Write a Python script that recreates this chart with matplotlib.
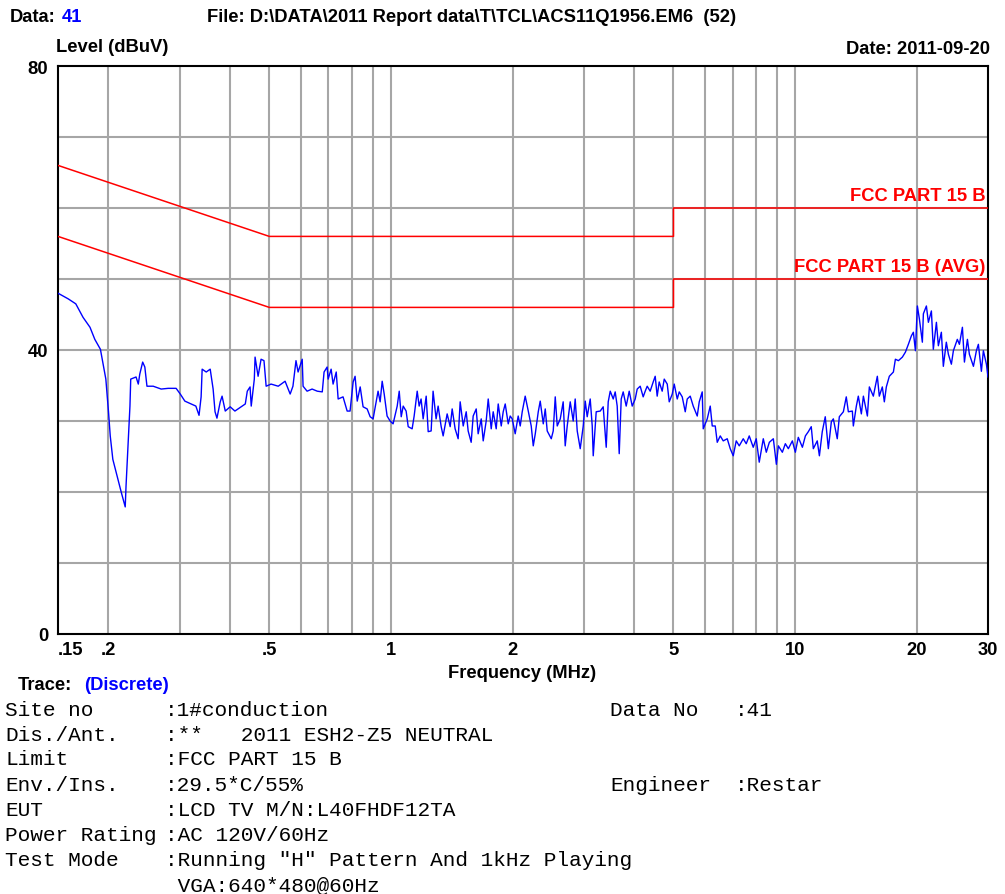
import matplotlib
matplotlib.use('Agg')
import matplotlib.pyplot as plt
from matplotlib.ticker import FixedLocator, NullFormatter

# ---------------- data ----------------
trace_freq_mhz = [
    0.150, 0.159, 0.166, 0.173, 0.180, 0.185, 0.191, 0.194, 0.197, 0.200,
    0.202, 0.205, 0.211, 0.215, 0.220, 0.221, 0.224, 0.226, 0.227, 0.234,
    0.237, 0.239, 0.243, 0.246, 0.249, 0.258, 0.270, 0.281, 0.294, 0.301,
    0.309, 0.320, 0.329, 0.335, 0.339, 0.341, 0.349, 0.357, 0.363, 0.367,
    0.371, 0.378, 0.382, 0.389, 0.400, 0.411, 0.426, 0.436, 0.441, 0.448,
    0.451, 0.459, 0.461, 0.469, 0.477, 0.485, 0.491, 0.505, 0.526, 0.547,
    0.563, 0.572, 0.582, 0.589,
    0.603, 0.606, 0.620, 0.638, 0.657, 0.676, 0.683, 0.695, 0.699, 0.711,
    0.719, 0.732, 0.740, 0.761, 0.779, 0.792, 0.806, 0.815, 0.825, 0.839,
    0.853, 0.873, 0.888, 0.903, 0.924, 0.929, 0.940, 0.951, 0.962, 0.978,
    0.995, 1.012, 1.036, 1.048, 1.060, 1.072, 1.090, 1.103, 1.128, 1.141,
    1.161, 1.174, 1.187, 1.201, 1.222, 1.236, 1.257, 1.271, 1.293, 1.308,
    1.331, 1.346, 1.377, 1.401, 1.417, 1.441, 1.466, 1.483, 1.509, 1.535,
    1.552, 1.579, 1.597, 1.625, 1.643, 1.672, 1.691, 1.720, 1.740, 1.770,
    1.790, 1.821, 1.842, 1.874, 1.895, 1.917, 1.950, 1.972, 1.995, 2.029,
    2.064, 2.088, 2.112, 2.148, 2.186, 2.223, 2.249, 2.275,
    2.314, 2.340, 2.381, 2.408, 2.435, 2.492, 2.520, 2.549, 2.578, 2.623,
    2.667, 2.698, 2.729, 2.776, 2.824, 2.856, 2.889, 2.939, 2.990, 3.024,
    3.058, 3.111, 3.147, 3.165, 3.219, 3.294, 3.350, 3.408, 3.447, 3.487,
    3.547, 3.587, 3.628, 3.670, 3.712, 3.754, 3.819, 3.885, 3.952, 4.020,
    4.066, 4.136, 4.207, 4.256, 4.304, 4.378, 4.454, 4.505, 4.556, 4.609,
    4.688, 4.743, 4.825, 4.880, 4.965, 5.021, 5.108, 5.166, 5.255, 5.346,
    5.407, 5.500, 5.595, 5.724, 5.790, 5.889, 5.923, 6.060, 6.164, 6.235,
    6.342, 6.415, 6.526, 6.638, 6.791, 6.908, 7.027, 7.148, 7.272, 7.439,
    7.567, 7.698, 7.875, 8.011, 8.149, 8.339, 8.483, 8.632,
    8.831, 8.984, 9.087, 9.296, 9.456, 9.619, 9.841, 10.01, 10.18, 10.42,
    10.60, 10.78, 10.96, 11.09, 11.34, 11.48, 11.67, 11.87, 12.08, 12.29,
    12.43, 12.71, 12.86, 13.16, 13.38, 13.54, 13.85, 13.93, 14.17, 14.33,
    14.58, 14.75, 15.09, 15.26, 15.61, 15.79, 15.97, 16.15, 16.43, 16.62,
    16.81, 17.10, 17.50, 17.70, 18.01, 18.42, 18.74, 19.06, 19.39, 19.61,
    19.84, 20.06, 20.29, 20.64, 20.76, 21.12, 21.36, 21.73, 21.97, 22.36,
    22.61, 23.00, 23.26, 23.66, 23.94, 24.35, 24.63, 25.19, 25.49, 25.93,
    26.23, 26.68, 26.98, 27.61, 28.08, 28.40, 28.89, 29.22, 29.73, 30.00,
]
trace_level_dbuv = [
    48.0, 47.2, 46.5, 44.6, 43.2, 41.5, 40.1, 38.0, 35.9, 31.3,
    27.9, 24.6, 21.8, 20.0, 17.9, 20.8, 27.5, 32.1, 35.9, 36.2,
    35.2, 36.6, 38.3, 37.6, 34.9, 34.9, 34.5, 34.6, 34.6, 33.8,
    32.8, 32.4, 32.1, 30.8, 33.4, 37.3, 36.9, 37.3, 34.5, 31.3,
    30.4, 32.7, 33.5, 31.4, 32.0, 31.4, 32.0, 32.4, 34.2, 34.8,
    32.1, 35.9, 39.0, 36.3, 38.7, 38.5, 34.9, 35.2, 34.9, 35.6,
    33.8, 34.9, 38.5, 36.9,
    38.7, 34.9, 34.2, 34.5, 34.2, 34.1, 36.9, 37.6, 35.9, 37.3,
    35.2, 36.9, 33.1, 33.4, 31.4, 31.4, 35.5, 36.3, 32.8, 34.8,
    32.0, 31.7, 30.6, 30.3, 33.4, 34.2, 32.7, 35.6, 33.8, 30.7,
    30.0, 29.6, 32.1, 34.2, 30.6, 32.1, 31.4, 29.2, 28.9, 30.7,
    34.2, 32.1, 33.1, 30.3, 33.5, 28.5, 28.6, 34.2, 30.3, 32.1,
    29.2, 27.9, 31.0, 29.2, 31.7, 28.9, 27.5, 32.7, 29.3, 31.3,
    28.6, 27.0, 30.7, 31.7, 28.2, 30.3, 27.2, 30.0, 33.1, 28.9,
    31.3, 28.9, 32.4, 29.3, 31.3, 32.4, 29.6, 30.7, 30.3, 28.2,
    30.7, 29.3, 31.3, 33.5, 31.4, 29.3, 26.5, 28.2,
    31.3, 32.8, 29.6, 31.7, 28.6, 27.5, 28.6, 33.4, 29.3, 30.3,
    32.7, 26.5, 29.3, 32.7, 30.0, 33.1, 28.6, 26.1, 29.3, 32.8,
    30.6, 33.1, 29.3, 25.1, 31.3, 31.4, 32.0, 26.3, 32.7, 34.2,
    33.1, 34.1, 32.1, 25.4, 33.1, 34.1, 32.1, 34.2, 32.1, 33.1,
    34.5, 34.9, 33.4, 34.2, 34.9, 34.2, 35.5, 36.3, 33.5, 35.5,
    34.2, 35.9, 35.2, 32.7, 33.8, 35.2, 33.1, 34.1, 33.4, 31.3,
    33.1, 33.5, 32.1, 30.7, 32.7, 34.1, 28.9, 30.3, 32.1, 29.3,
    29.3, 27.0, 27.9, 27.2, 27.5, 26.1, 25.1, 27.2, 26.5, 27.5,
    26.8, 27.9, 26.3, 27.5, 24.2, 27.5, 25.6, 27.0,
    27.5, 23.9, 26.5, 25.6, 26.8, 26.1, 27.2, 25.6, 27.7, 26.3,
    27.9, 28.5, 29.2, 26.1, 27.2, 25.1, 28.5, 30.6, 26.1, 29.9,
    30.3, 27.5, 30.6, 31.3, 33.4, 31.3, 31.4, 29.3, 32.1, 33.5,
    31.0, 33.5, 30.7, 34.8, 33.5, 34.9, 36.3, 33.5, 34.8, 32.7,
    34.8, 36.3, 36.9, 38.7, 38.5, 39.0, 39.7, 40.8, 42.0, 42.5,
    39.9, 46.2, 44.4, 41.1, 45.1, 46.2, 43.9, 45.5, 40.1, 43.9,
    40.6, 42.5, 37.7, 41.1, 39.4, 38.0, 39.9, 41.5, 40.8, 43.2,
    38.3, 41.5, 39.4, 37.7, 39.9, 40.8, 37.0, 39.9, 38.0, 36.2,
]

limit_freq_mhz = [0.15, 0.5, 5.0, 5.0, 30.0]
limit_qp_dbuv = [66, 56, 56, 60, 60]
limit_avg_dbuv = [56, 46, 46, 50, 50]

x_tick_values = [0.15, 0.2, 0.5, 1, 2, 5, 10, 20, 30]
x_tick_labels = ['.15', '.2', '.5', '1', '2', '5', '10', '20', '30']
x_grid_values = [0.2, 0.3, 0.4, 0.5, 0.6, 0.7, 0.8, 0.9, 1, 2, 3, 4, 5, 6, 7, 8, 9, 10, 20]
y_tick_values = [0, 40, 80]
y_grid_values = [10, 20, 30, 40, 50, 60, 70]

info_labels = ['Site no', 'Dis./Ant.', 'Limit', 'Env./Ins.', 'EUT',
               'Power Rating', 'Test Mode', '']
info_values = [':1#conduction', ':**   2011 ESH2-Z5 NEUTRAL', ':FCC PART 15 B',
               ':29.5*C/55%', ':LCD TV M/N:L40FHDF12TA', ':AC 120V/60Hz',
               ':Running "H" Pattern And 1kHz Playing', ' VGA:640*480@60Hz']
right_labels = {0: ('Data No', ':41'), 3: ('Engineer', ':Restar')}

# ---------------- figure ----------------
W, H = 1005, 895
fig = plt.figure(figsize=(W / 100, H / 100), dpi=100)
fig.patch.set_facecolor('white')

def fx(x):
    return x / W

def fy(y):
    return 1 - y / H

SANS = 'Liberation Sans'
MONO = 'Liberation Mono'
BLUE = '#0000FF'
RED = '#FF0000'
GRID = '#A6A6A6'
FS = 13.2
MFS = 15.2

ax = fig.add_axes([fx(58), fy(635), fx(988) - fx(58), fy(67) - fy(635)])
ax.set_xscale('log')
ax.set_xlim(0.15, 30)
ax.set_ylim(0, 80)

for g in x_grid_values:
    ax.axvline(g, color=GRID, lw=1.5, zorder=1)
for g in y_grid_values:
    ax.axhline(g, color=GRID, lw=1.5, zorder=1)

ax.plot(limit_freq_mhz, limit_qp_dbuv, color=RED, lw=1.1, zorder=3)
ax.plot(limit_freq_mhz, limit_avg_dbuv, color=RED, lw=1.1, zorder=3)
ax.plot(trace_freq_mhz, trace_level_dbuv, color=BLUE, lw=1.0, zorder=4)

ax.xaxis.set_major_locator(FixedLocator(x_tick_values))
ax.xaxis.set_minor_locator(FixedLocator([]))
ax.xaxis.set_minor_formatter(NullFormatter())
ax.set_xticklabels(x_tick_labels)
ax.yaxis.set_major_locator(FixedLocator(y_tick_values))
ax.set_yticklabels([str(v) for v in y_tick_values])
ax.tick_params(axis='both', length=0, labelsize=FS)
ax.tick_params(axis='x', pad=5)
ax.tick_params(axis='y', pad=7)
for lbl in ax.get_xticklabels() + ax.get_yticklabels():
    lbl.set_fontfamily(SANS)
    lbl.set_fontweight('bold')
ax.get_xticklabels()[0].set_ha('left')
ax.get_xticklabels()[0].set_x(0.148)

for s in ax.spines.values():
    s.set_color('black')
    s.set_linewidth(1.5)

ax.text(29.6, 60.6, 'FCC PART 15 B', color=RED, ha='right', va='bottom',
        fontsize=FS, fontweight='bold', family=SANS)
ax.text(29.6, 50.6, 'FCC PART 15 B (AVG)', color=RED, ha='right', va='bottom',
        fontsize=FS, fontweight='bold', family=SANS)

def t(x, y, s, **kw):
    kw.setdefault('fontsize', FS)
    kw.setdefault('fontweight', 'bold')
    kw.setdefault('family', SANS)
    kw.setdefault('va', 'center')
    fig.text(fx(x), fy(y), s, **kw)

t(10, 17, 'Data:')
t(62, 17, '41', color=BLUE)
t(207, 17, 'File: D:\\DATA\\2011 Report data\\T\\TCL\\ACS11Q1956.EM6  (52)')
t(56, 47, 'Level (dBuV)')
t(990, 49, 'Date: 2011-09-20', ha='right')
t(522, 673, 'Frequency (MHz)', ha='center')
t(18, 686, 'Trace:')
t(84, 686, '(Discrete)', color=BLUE)

row_y = [711, 736, 760, 786, 811, 836, 861, 886]
for i, (lab, val) in enumerate(zip(info_labels, info_values)):
    t(5, row_y[i], lab, family=MONO, fontweight='normal', fontsize=MFS)
    t(165, row_y[i], val, family=MONO, fontweight='normal', fontsize=MFS)
for i, (lab, val) in right_labels.items():
    t(610, row_y[i], lab, family=MONO, fontweight='normal', fontsize=MFS)
    t(735, row_y[i], val, family=MONO, fontweight='normal', fontsize=MFS)

fig.savefig('out.png', dpi=100)
